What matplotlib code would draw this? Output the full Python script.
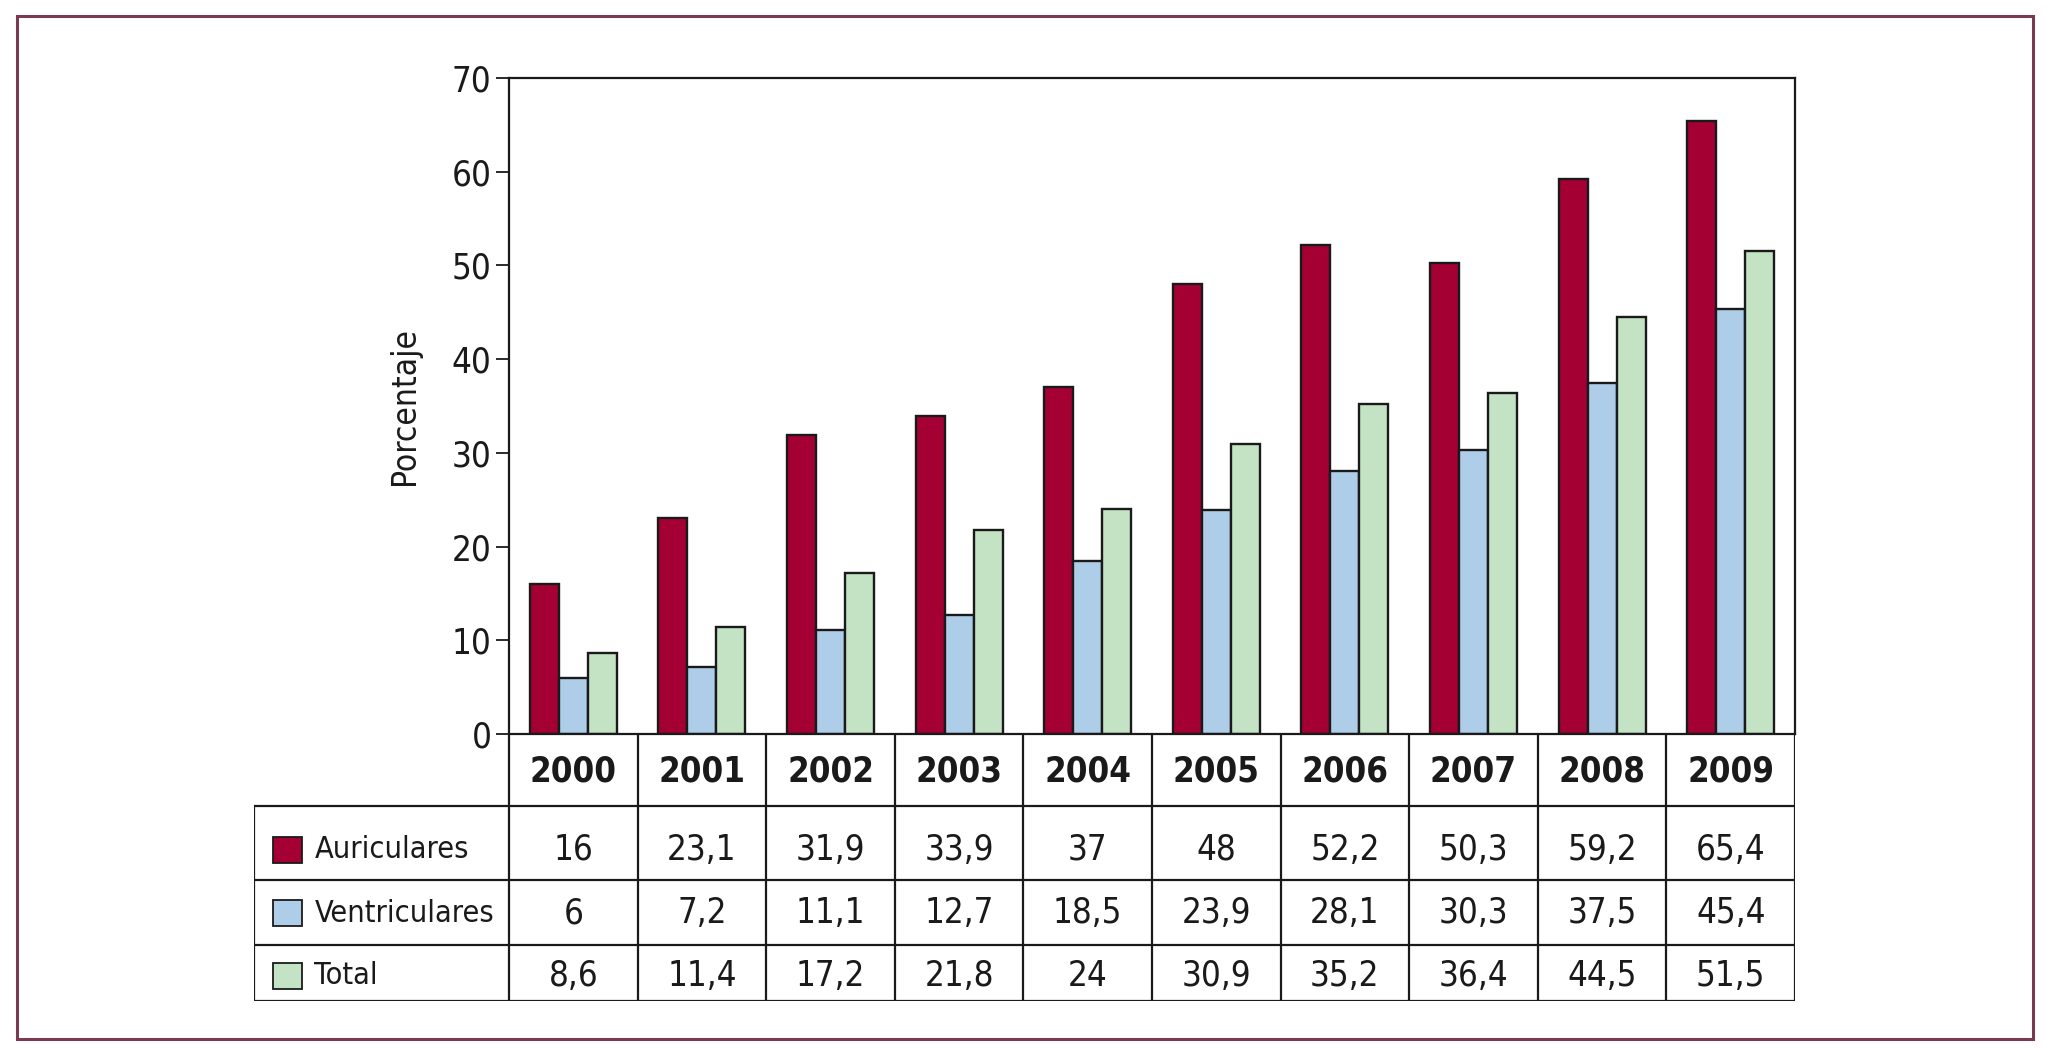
import matplotlib.pyplot as plt
import matplotlib.patches as mpatches
import numpy as np

# Data
years = ["2000", "2001", "2002", "2003", "2004", "2005", "2006", "2007", "2008", "2009"]
auriculares = [16, 23.1, 31.9, 33.9, 37, 48, 52.2, 50.3, 59.2, 65.4]
ventriculares = [6, 7.2, 11.1, 12.7, 18.5, 23.9, 28.1, 30.3, 37.5, 45.4]
total = [8.6, 11.4, 17.2, 21.8, 24, 30.9, 35.2, 36.4, 44.5, 51.5]
series_names = ["Auriculares", "Ventriculares", "Total"]
colors = ["#a50034", "#aecde9", "#c4e2c4"]

plt.rcParams["font.family"] = ["DejaVu Sans"]
plt.rcParams["font.stretch"] = "condensed"

W, H = 2045, 1050
fig = plt.figure(figsize=(W / 100, H / 100), dpi=100)

def px(x0, y0, x1, y1):
    return [x0 / W, 1 - y1 / H, (x1 - x0) / W, (y1 - y0) / H]

# outer frame
fig.patches.append(mpatches.Rectangle((17 / W, 1 - 1039 / H), (2033 - 17) / W, (1039 - 16) / H,
                                      transform=fig.transFigure, fill=False,
                                      edgecolor="#7b3a4e", linewidth=2.2))

# Bar chart
ax = fig.add_axes(px(509, 78, 1795, 734))
x = np.arange(len(years))
bw = 0.226
for k, (vals, c) in enumerate(zip([auriculares, ventriculares, total], colors)):
    ax.bar(x + (k - 1) * bw, vals, bw, color=c, edgecolor="#1a1a1a", linewidth=1.7)
ax.set_xlim(-0.5, len(years) - 0.5)
ax.set_ylim(0, 70)
ax.set_yticks(range(0, 71, 10))
ax.set_xticks([])
ax.tick_params(axis="y", labelsize=25, length=9.5, width=1.3, pad=3, direction="out",
               colors="#1a1a1a")
ax.set_ylabel("Porcentaje", fontsize=24, labelpad=22, color="#1a1a1a")
for s in ax.spines.values():
    s.set_linewidth(1.6)
    s.set_color("#1a1a1a")

# Table below the chart
label_w = (509 - 254) / (1795 - 509) * len(years)
tab = fig.add_axes(px(254, 734, 1795, 1001))
tab.set_xlim(-0.5 - label_w, len(years) - 0.5)
tab.set_ylim(267, 0)
tab.axis("off")
row_edges = [0, 72, 146, 211, 267]
text_y = [37, 116, 179, 242]
lc = "#1a1a1a"
lw = 1.6
left = -0.5 - label_w
right = len(years) - 0.5
for e in row_edges[1:]:
    tab.plot([left, right], [e, e], color=lc, lw=lw, solid_capstyle="projecting")
for i in range(len(years) + 1):
    tab.plot([i - 0.5, i - 0.5], [row_edges[0], row_edges[-1]], color=lc, lw=lw)
tab.plot([left, left], [row_edges[1], row_edges[-1]], color=lc, lw=lw)

for i, yr in enumerate(years):
    tab.text(i, text_y[0], yr, ha="center", va="center", fontsize=25, fontweight="bold", color=lc)

for r, (name, vals, c) in enumerate(zip(series_names, [auriculares, ventriculares, total], colors)):
    yy = text_y[r + 1]
    tab.add_patch(mpatches.Rectangle((left + 0.15, yy - 13), 0.22, 26, facecolor=c,
                                     edgecolor=lc, linewidth=1.3))
    tab.text(left + 0.47, yy, name, ha="left", va="center", fontsize=22, color=lc)
    for i, v in enumerate(vals):
        s = f"{v:g}".replace(".", ",")
        tab.text(i, yy, s, ha="center", va="center", fontsize=25, color=lc)

fig.savefig("out.png", dpi=100, facecolor="white")
